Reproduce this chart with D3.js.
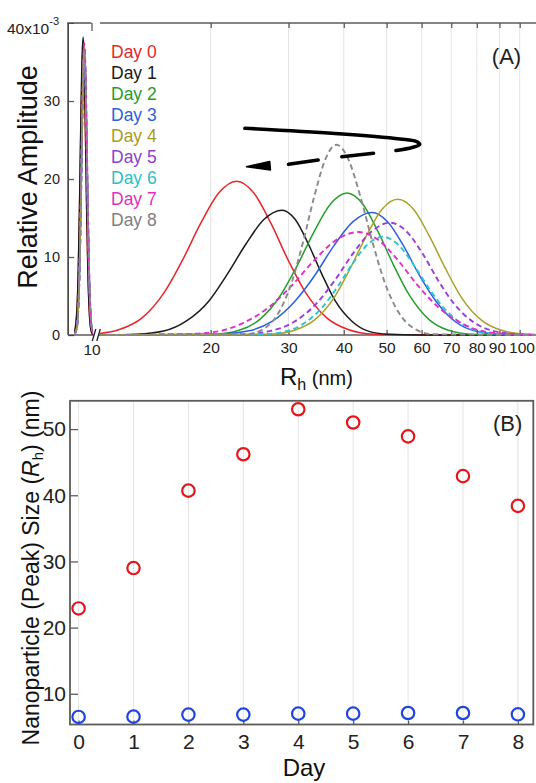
<!DOCTYPE html>
<html>
<head>
<meta charset="utf-8">
<script src="https://cdn.jsdelivr.net/npm/d3@7"></script>
<style>
  body { margin: 0; background: #fff; }
  svg { display: block; font-family: "Liberation Sans", Arial, Helvetica, sans-serif; }
</style>
</head>
<body>
<script>
// ---- data ----
let days = [0, 1, 2, 3, 4, 5, 6, 7, 8];
let dayNames = days.map(d => "Day " + d);

// panel B: peak sizes (nm)
let peakLarge = [22.9, 29.0, 40.7, 46.2, 53.0, 51.0, 48.9, 42.9, 38.4];
let peakSmall = [6.5, 6.55, 6.86, 6.86, 7.0, 7.0, 7.1, 7.1, 6.9];

// panel A, small mode (left of the axis break): Rh grid and amplitudes (x1e-3)
let smallGrid = [3, 4, 4.5, 5, 5.5, 6, 6.5, 7, 7.5, 8, 8.5, 9, 9.5, 10, 11];
let smallAmp = [
  [0.4, 3.5, 8.1, 15.8, 25.3, 33.7, 37.0, 33.7, 25.3, 15.8, 8.1, 3.5, 1.2, 0.4, 0],
  [0.4, 3.6, 8.4, 16.3, 26.2, 34.8, 38.2, 34.8, 26.2, 16.3, 8.4, 3.6, 1.3, 0.4, 0],
  [0.1, 1.2, 3.5, 8.1, 15.7, 25.2, 33.5, 36.8, 33.5, 25.2, 15.7, 8.1, 3.5, 1.2, 0.1],
  [0.1, 1.2, 3.4, 7.9, 15.4, 24.7, 32.8, 36.0, 32.8, 24.7, 15.4, 7.9, 3.4, 1.2, 0.1],
  [0.1, 1.2, 3.5, 8.2, 15.9, 25.5, 33.9, 37.2, 33.9, 25.5, 15.9, 8.2, 3.5, 1.2, 0.1],
  [0.1, 1.2, 3.4, 7.9, 15.3, 24.5, 32.6, 35.8, 32.6, 24.5, 15.3, 7.9, 3.4, 1.2, 0.1],
  [0.1, 1.2, 3.4, 8.0, 15.5, 24.9, 33.0, 36.3, 33.0, 24.9, 15.5, 8.0, 3.4, 1.2, 0.1],
  [0.1, 1.2, 3.5, 8.2, 16.0, 25.6, 34.0, 37.4, 34.0, 25.6, 16.0, 8.2, 3.5, 1.2, 0.1],
  [0.1, 1.2, 3.4, 8.0, 15.6, 25.0, 33.2, 36.5, 33.2, 25.0, 15.6, 8.0, 3.4, 1.2, 0.1]
];

// panel A, large mode: [Rh (nm), amplitude (x1e-3)]
let distDay0 = [[10.8,0.1],[12.43,0.7],[13.99,2.2],[15.72,5.5],[17.27,9.6],[18.98,14.3],[20.85,18.2],[22.9,19.7],[25.04,18.2],[27.38,14.3],[29.94,9.6],[32.74,5.5],[36.61,2.2],[40.92,0.7],[46.79,0.1],[60,0],[115,0]];
let distDay1 = [[11,0],[13.58,0.1],[15.65,0.5],[17.63,1.8],[19.84,4.4],[21.81,7.8],[23.99,11.6],[26.38,14.8],[29.0,16.0],[31.07,14.8],[33.30,11.6],[35.68,7.8],[38.23,4.4],[41.67,1.8],[45.44,0.5],[50.4,0.1],[60,0],[115,0]];
let distDay2 = [[11,0],[20.36,0.1],[23.18,0.6],[25.83,2.0],[28.78,5.1],[31.39,8.9],[34.23,13.2],[37.33,16.8],[40.7,18.2],[44.14,16.8],[47.87,13.2],[51.91,8.9],[56.29,5.1],[62.29,2.0],[68.93,0.6],[77.83,0.1],[115,0]];
let distDay3 = [[11,0],[20.89,0.1],[24.26,0.5],[27.47,1.7],[31.09,4.4],[34.35,7.6],[37.94,11.4],[41.92,14.5],[46.3,15.7],[50.30,14.5],[54.65,11.4],[59.37,7.6],[64.51,4.4],[71.55,1.7],[79.36,0.5],[89.86,0.1],[115,0]];
let distDay4 = [[11,0],[27.31,0.1],[30.92,0.6],[34.30,1.9],[38.04,4.8],[41.33,8.5],[44.90,12.6],[48.78,16.1],[53.0,17.4],[57.58,16.1],[62.56,12.6],[67.96,8.5],[73.84,4.8],[81.90,1.9],[90.84,0.6],[102.87,0.1],[115,0]];
let distDay5 = [[11,0],[23.53,0.1],[27.20,0.5],[30.70,1.6],[34.64,4.0],[38.16,7.0],[42.03,10.5],[46.30,13.3],[51.0,14.4],[55.41,13.3],[60.20,10.5],[65.40,7.0],[71.05,4.0],[78.81,1.6],[87.41,0.5],[98.99,0.1],[115,0]];
let distDay6 = [[11,0],[26.00,0.1],[29.28,0.4],[32.33,1.4],[35.69,3.5],[38.63,6.1],[41.82,9.1],[45.27,11.6],[49.0,12.6],[53.04,11.6],[57.41,9.1],[62.15,6.1],[67.27,3.5],[74.27,1.4],[82.00,0.4],[92.35,0.1],[115,0]];
let distDay7 = [[11,0],[17.20,0.1],[20.44,0.4],[23.60,1.5],[27.26,3.7],[30.58,6.4],[34.32,9.6],[38.50,12.2],[43.2,13.2],[47.84,12.2],[53.01,9.6],[58.72,6.4],[65.04,3.7],[73.90,1.5],[83.96,0.4],[97.90,0.1],[115,0]];
let distDay8 = [[11,0],[24.20,0.1],[26.40,0.8],[28.38,2.7],[30.52,6.8],[32.35,11.9],[34.28,17.7],[36.33,22.5],[38.5,24.4],[40.99,22.5],[43.64,17.7],[46.46,11.9],[49.46,6.8],[53.50,2.7],[57.87,0.8],[63.54,0.1],[115,0]];
let distAll = [distDay0, distDay1, distDay2, distDay3, distDay4, distDay5, distDay6, distDay7, distDay8];

// arrow annotation in panel A, in data units [Rh, amplitude]
let arrowSolid = [[23.9,26.5],[38.2,25.83],[53.6,25.13],[58.3,24.81],[59.4,24.42],[57.1,24.04],[52.5,23.65]];
let arrowDash1 = [[46.7,23.3],[39.6,22.86]];
let arrowDash2 = [[35.0,22.44],[30.0,21.88]];
let arrowHead = [[24.1,21.58],[27.2,22.24],[27.3,21.15]];

// tick values
let xTicksA = [20, 30, 40, 50, 60, 70, 80, 90, 100];
let yTicksA = [0, 10, 20, 30];
let yTicksB = [10, 20, 30, 40, 50];

// styles
let dayColors = ["#e8262a", "#1a1a1a", "#23a02c", "#2a5fe0", "#aaa12a", "#9b3fd8", "#2cc5d0", "#e030c8", "#8a8a8a"];
let textColors = ["#e8262a", "#1a1a1a", "#2a9a2a", "#2f5fd8", "#a89a22", "#9040d0", "#2abfc8", "#e030c0", "#808080"];
let dashed = [false, false, false, false, false, true, true, true, true];

// ---- layout ----
let width = 536, height = 783;
let axisColor = "#5c5c5c";

let svg = d3.select("body").append("svg")
  .attr("width", width)
  .attr("height", height);

svg.append("rect").attr("width", width).attr("height", height).attr("fill", "#fff");

// panel A scales
let yA = d3.scaleLinear().domain([0, 40]).range([335, 23]);
let xMain = d3.scaleLog().domain([20, 100]).range([210.7, 519.7]);
let xSmall = d3.scaleLinear().domain([0, 10]).range([67.5, 91.5]);

// panel B scales
let xB = d3.scaleLinear().domain([0, 8]).range([78.6, 517.9]);
let yB = d3.scaleLinear().domain([10, 50]).range([693.8, 429.1]);

let defs = svg.append("defs");
defs.append("clipPath").attr("id", "clipMain")
  .append("rect").attr("x", 100).attr("y", 0).attr("width", 440).attr("height", 340);
defs.append("clipPath").attr("id", "clipSmall")
  .append("rect").attr("x", 68).attr("y", 0).attr("width", 25).attr("height", 340);

// ===== Panel A =====
let gA = svg.append("g");

// grid
gA.selectAll(".gridA")
  .data(xTicksA)
  .enter()
  .append("line")
  .attr("x1", d => xMain(d)).attr("x2", d => xMain(d))
  .attr("y1", 23).attr("y2", 335)
  .attr("stroke", "#e4e4e4").attr("stroke-width", 1);

// bottom ticks + labels (main)
let axBot = gA.append("g").attr("transform", "translate(0,335)")
  .call(d3.axisBottom(xMain).tickValues(xTicksA).tickFormat(d3.format("d")).tickSize(-5).tickPadding(7));
// top ticks (main)
let axTop = gA.append("g").attr("transform", "translate(0,23)")
  .call(d3.axisTop(xMain).tickValues(xTicksA).tickFormat("").tickSize(-5));
// small segment tick at 10
let axBotS = gA.append("g").attr("transform", "translate(0,335)")
  .call(d3.axisBottom(xSmall).tickValues([10]).tickFormat(d3.format("d")).tickSize(-4).tickPadding(9));
let axTopS = gA.append("g").attr("transform", "translate(0,23)")
  .call(d3.axisTop(xSmall).tickValues([10]).tickFormat("").tickSize(-8));
// left axis
let axLeft = gA.append("g").attr("transform", "translate(68,0)")
  .call(d3.axisLeft(yA).tickValues(yTicksA).tickFormat(d3.format("d")).tickSize(-6).tickPadding(8));
gA.append("g").attr("transform", "translate(68,0)")
  .call(d3.axisLeft(yA).tickValues([40]).tickFormat("").tickSize(-6));

[axBot, axTop, axBotS, axTopS, axLeft].forEach(a => {
  a.select(".domain").remove();
  a.selectAll("line").attr("stroke", axisColor).attr("stroke-width", 1.3);
  a.selectAll("text").attr("fill", "#222").attr("font-size", 15.5)
    .attr("font-family", "'Liberation Sans', Arial, sans-serif");
});
axLeft.selectAll("text").attr("font-size", 14.5);
// the crowded "90" and "100" labels sit tight together, as in the reference
axBot.selectAll("text").filter(d => d === 90).attr("dx", -2.5);
axBot.selectAll("text").filter(d => d === 100).attr("dx", 1.8);

// frame lines of panel A
gA.append("line").attr("x1", 68).attr("x2", 68).attr("y1", 23).attr("y2", 335)
  .attr("stroke", axisColor).attr("stroke-width", 1.6);
gA.append("line").attr("x1", 68).attr("x2", 536).attr("y1", 335).attr("y2", 335)
  .attr("stroke", axisColor).attr("stroke-width", 1.6);
gA.append("line").attr("x1", 67.2).attr("x2", xSmall(10)).attr("y1", 23).attr("y2", 23)
  .attr("stroke", axisColor).attr("stroke-width", 1.6);
gA.append("line").attr("x1", 100).attr("x2", 536).attr("y1", 23).attr("y2", 23)
  .attr("stroke", axisColor).attr("stroke-width", 1.6);

// axis break "//"
gA.append("polygon")
  .attr("points", "92.5,341 96,329 100,329 96.5,341")
  .attr("fill", "#fff");
gA.append("line").attr("x1", 92.3).attr("y1", 341).attr("x2", 95.8).attr("y2", 329)
  .attr("stroke", "#222").attr("stroke-width", 1.3);
gA.append("line").attr("x1", 96.8).attr("y1", 341).attr("x2", 100.3).attr("y2", 329)
  .attr("stroke", "#222").attr("stroke-width", 1.3);

// curves
let lineMain = d3.line()
  .x(d => xMain(d[0]))
  .y(d => yA(d[1]))
  .curve(d3.curveMonotoneX);
let lineSmall = d3.line()
  .x(d => xSmall(d[0]))
  .y(d => yA(d[1]))
  .curve(d3.curveMonotoneX);

let curvesMain = gA.append("g").attr("clip-path", "url(#clipMain)");
let curvesSmall = gA.append("g").attr("clip-path", "url(#clipSmall)");

days.forEach(i => {
  curvesMain.append("path")
    .attr("d", lineMain(distAll[i]))
    .attr("fill", "none")
    .attr("stroke", dayColors[i])
    .attr("stroke-width", dashed[i] ? 1.9 : 1.5)
    .attr("stroke-dasharray", dashed[i] ? "5.5,3.5" : null);
  let pts = smallGrid.map((r, k) => [r, smallAmp[i][k]]);
  curvesSmall.append("path")
    .attr("d", lineSmall(pts))
    .attr("fill", "none")
    .attr("stroke", dayColors[i])
    .attr("stroke-width", dashed[i] ? 1.9 : 1.5)
    .attr("stroke-dasharray", dashed[i] ? "5.5,3.5" : null);
});

// arrow annotation
let lineArrow = d3.line().x(d => xMain(d[0])).y(d => yA(d[1])).curve(d3.curveCatmullRom);
gA.append("path").attr("d", lineArrow(arrowSolid))
  .attr("fill", "none").attr("stroke", "#000").attr("stroke-width", 3.6)
  .attr("stroke-linecap", "round").attr("stroke-linejoin", "round");
[arrowDash1, arrowDash2].forEach(seg => {
  gA.append("path").attr("d", d3.line().x(d => xMain(d[0])).y(d => yA(d[1]))(seg))
    .attr("fill", "none").attr("stroke", "#000").attr("stroke-width", 3.6)
    .attr("stroke-linecap", "round");
});
gA.append("path").attr("d", d3.line().x(d => xMain(d[0])).y(d => yA(d[1]))(arrowHead) + "Z")
  .attr("fill", "#000").attr("stroke", "#000").attr("stroke-width", 1.5)
  .attr("stroke-linejoin", "round");

// legend
gA.selectAll(".legend")
  .data(days)
  .enter()
  .append("text")
  .attr("x", 111)
  .attr("y", (d, i) => 57.7 + i * 21.05)
  .attr("font-size", 17.5)
  .attr("fill", (d, i) => textColors[i])
  .text((d, i) => dayNames[i]);

// labels of panel A
gA.append("text").attr("x", 506.5).attr("y", 64).attr("text-anchor", "middle")
  .attr("font-size", 22).attr("fill", "#222").text("(A)");

let expLabel = gA.append("text").attr("x", 7).attr("y", 34).attr("font-size", 15.5).attr("fill", "#222");
expLabel.append("tspan").text("40x10");
expLabel.append("tspan").attr("font-size", 11).attr("dy", -9).text("-3");

gA.append("text")
  .attr("transform", "translate(28,177) rotate(-90)")
  .attr("text-anchor", "middle").attr("dy", "0.35em")
  .attr("font-size", 27).attr("fill", "#111")
  .text("Relative Amplitude");

let xLabA = gA.append("text").attr("x", 280).attr("y", 385).attr("fill", "#111");
xLabA.append("tspan").attr("font-size", 24).text("R");
xLabA.append("tspan").attr("font-size", 16).attr("dy", 5).text("h");
xLabA.append("tspan").attr("font-size", 20).attr("dy", -5).text(" (nm)");

// ===== Panel B =====
let gB = svg.append("g");

gB.selectAll(".gridB")
  .data(days)
  .enter()
  .append("line")
  .attr("x1", d => xB(d)).attr("x2", d => xB(d))
  .attr("y1", 400.8).attr("y2", 724.5)
  .attr("stroke", "#e4e4e4").attr("stroke-width", 1);

let axBotB = gB.append("g").attr("transform", "translate(0,724.5)")
  .call(d3.axisBottom(xB).tickValues(days).tickFormat(d3.format("d")).tickSize(-4).tickPadding(10));
let axLeftB = gB.append("g").attr("transform", "translate(70,0)")
  .call(d3.axisLeft(yB).tickValues(yTicksB).tickFormat(d3.format("d")).tickSize(-8).tickPadding(4));
[axBotB, axLeftB].forEach(a => {
  a.select(".domain").remove();
  a.selectAll("line").attr("stroke", axisColor).attr("stroke-width", 1.3);
  a.selectAll("text").attr("fill", "#222").attr("font-size", 21)
    .attr("font-family", "'Liberation Sans', Arial, sans-serif");
});

gB.append("rect")
  .attr("x", 70).attr("y", 400.8)
  .attr("width", 463.3).attr("height", 323.7)
  .attr("fill", "none").attr("stroke", axisColor).attr("stroke-width", 1.8);

gB.selectAll(".ptLarge")
  .data(days)
  .enter()
  .append("circle")
  .attr("cx", d => xB(d))
  .attr("cy", (d, i) => yB(peakLarge[i]))
  .attr("r", 6.2)
  .attr("fill", "none").attr("stroke", "#e3161b").attr("stroke-width", 2.2);

gB.selectAll(".ptSmall")
  .data(days)
  .enter()
  .append("circle")
  .attr("cx", d => xB(d))
  .attr("cy", (d, i) => yB(peakSmall[i]))
  .attr("r", 6.2)
  .attr("fill", "none").attr("stroke", "#1f44e0").attr("stroke-width", 2.2);

gB.append("text").attr("x", 507.6).attr("y", 431).attr("text-anchor", "middle")
  .attr("font-size", 22).attr("fill", "#222").text("(B)");

gB.append("text").attr("x", 304).attr("y", 776).attr("text-anchor", "middle")
  .attr("font-size", 24).attr("fill", "#111").text("Day");

let yLabB = gB.append("text")
  .attr("transform", "translate(31,568) rotate(-90)")
  .attr("text-anchor", "middle").attr("dy", "0.33em")
  .attr("font-size", 23).attr("fill", "#111");
yLabB.append("tspan").text("Nanoparticle (Peak) Size (");
yLabB.append("tspan").attr("font-style", "italic").text("R");
yLabB.append("tspan").attr("font-size", 15).attr("dy", 4).text("h");
yLabB.append("tspan").attr("dy", -4).text(") (nm)");
</script>
</body>
</html>
